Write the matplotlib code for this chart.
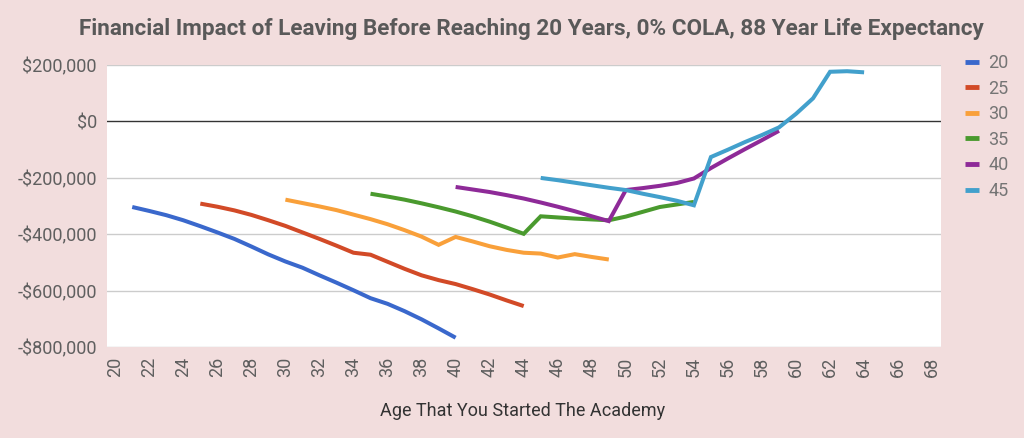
import matplotlib
matplotlib.use("Agg")
import matplotlib.pyplot as plt
from matplotlib.ticker import FuncFormatter

plt.rcParams['font.family'] = ['Roboto', 'DejaVu Sans']

# Data: age started the academy (x) vs financial impact ($)
series_names = ["20", "25", "30", "35", "40", "45"]

ages_20 = list(range(21, 41))
vals_20 = [-303000, -317000, -332000, -350000, -371000, -393000, -416000, -443000,
           -471000, -496000, -518000, -545000, -571000, -598000, -626000, -646000,
           -672000, -701000, -733000, -766000]

ages_25 = list(range(25, 45))
vals_25 = [-291000, -302000, -315000, -331000, -350000, -370000, -393000, -416000,
           -440000, -465000, -472000, -497000, -522000, -545000, -562000, -576000,
           -594000, -613000, -634000, -654000]

ages_30 = list(range(30, 50))
vals_30 = [-277000, -289000, -301000, -314000, -330000, -346000, -364000, -385000,
           -408000, -437000, -409000, -425000, -442000, -455000, -465000, -468000,
           -482000, -470000, -480000, -489000]

ages_35 = list(range(35, 55))
vals_35 = [-256000, -266000, -277000, -290000, -304000, -319000, -336000, -355000,
           -376000, -398000, -336000, -340000, -344000, -347000, -350000, -337000,
           -320000, -303000, -294000, -285000]

ages_40 = list(range(40, 60))
vals_40 = [-232000, -241000, -250000, -261000, -273000, -287000, -302000, -318000,
           -336000, -353000, -243000, -236000, -228000, -218000, -202000, -165000,
           -131000, -98000, -66000, -33000]

ages_45 = list(range(45, 65))
vals_45 = [-200000, -208000, -217000, -226000, -235000, -243000, -256000, -268000,
           -281000, -297000, -126000, -100000, -73000, -48000, -21000, 27000,
           82000, 176000, 178000, 174000]

x_ticks = list(range(20, 70, 2))
y_ticks = [-800000, -600000, -400000, -200000, 0, 200000]

colors = ["#3a68cc", "#d24a27", "#f9a03a", "#4a9a2e", "#8e2a98", "#42a0cc"]

title = "Financial Impact of Leaving Before Reaching 20 Years, 0% COLA, 88 Year Life Expectancy"
xlabel = "Age That You Started The Academy"

bg = "#f2dddd"
fig = plt.figure(figsize=(10.24, 4.38), dpi=100, facecolor=bg)
ax = fig.add_axes([106.7/1024, 1 - 347.3/438, (940.7-106.7)/1024, (347.3-65.0)/438])
ax.set_facecolor("white")

all_series = [(ages_20, vals_20), (ages_25, vals_25), (ages_30, vals_30),
              (ages_35, vals_35), (ages_40, vals_40), (ages_45, vals_45)]
handles = []
for (xs, ys), name, c in zip(all_series, series_names, colors):
    h, = ax.plot(xs, ys, color=c, lw=2.9, label=name, solid_capstyle='butt',
                 solid_joinstyle='miter', zorder=3)
    handles.append(h)

ax.set_xlim(19.5, 68.5)
ax.set_ylim(-800000, 200000)
ax.set_xticks(x_ticks)
ax.set_xticklabels([str(t) for t in x_ticks], rotation=90, fontsize=13, color="#5f5f5f")
ax.set_yticks(y_ticks)
ax.yaxis.set_major_formatter(FuncFormatter(lambda v, p: ("-$" if v < 0 else "$") + f"{abs(int(v)):,}"))
ax.tick_params(axis='y', labelsize=13, labelcolor="#5f5f5f", length=0, pad=7)
ax.tick_params(axis='x', length=0, pad=7)

for s in ax.spines.values():
    s.set_visible(False)
for yv in y_ticks:
    if yv == 0:
        ax.axhline(yv, color="#333333", lw=1.0, zorder=2)
    else:
        ax.axhline(yv, color="#cccccc", lw=1.0, zorder=1)

fig.text(531/1024, 1 - 29/438, title, ha='center', va='center', fontsize=16.2,
         fontweight='bold', color="#595959")
fig.text(523/1024, 1 - 411/438, xlabel, ha='center', va='center', fontsize=13,
         color="#333333")

leg = fig.legend(handles=handles, labels=series_names, loc='upper left',
                 bbox_to_anchor=(965/1024, 1 - 54/438), frameon=False,
                 fontsize=13, handlelength=0.78, handletextpad=0.5,
                 labelspacing=0.42, borderaxespad=0, borderpad=0)
for t in leg.get_texts():
    t.set_color("#757575")
for lh in leg.get_lines():
    lh.set_linewidth(3.5)

fig.savefig("out.png", dpi=100, facecolor=bg)
